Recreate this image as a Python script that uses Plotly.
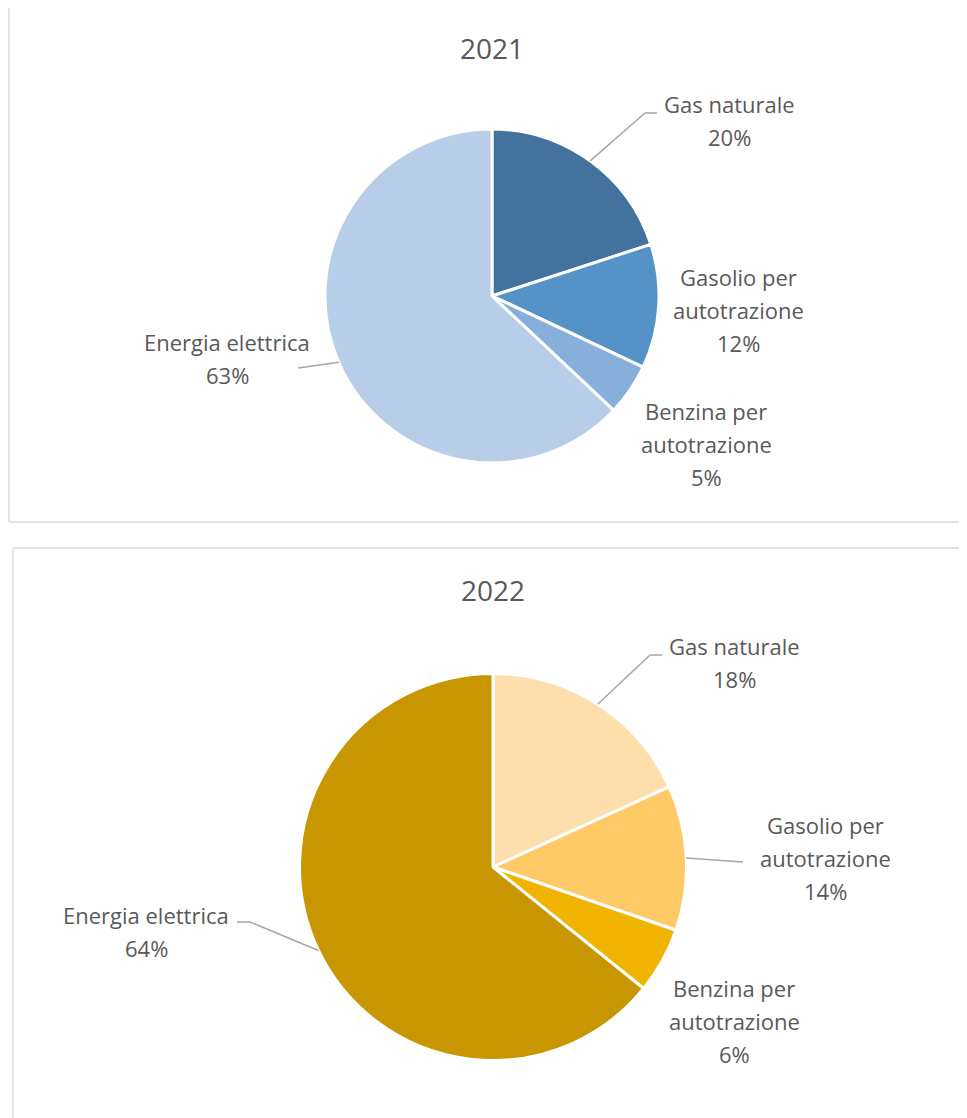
import numpy as np
import plotly.graph_objects as go

OFF = 8  # page body margin
W, H = 967 - OFF, 1118 - OFF

# data
fonti = ["Gas naturale", "Gasolio per autotrazione", "Benzina per autotrazione", "Energia elettrica"]
valori_2021 = [20, 12, 5, 63]
valori_2022 = [18.2, 12.1, 5.5, 64.2]
etichette_2021 = ["20%", "12%", "5%", "63%"]
etichette_2022 = ["18%", "14%", "6%", "64%"]
colori_2021 = ["#44729F", "#5592C8", "#87AFDC", "#B8CDE8"]
colori_2022 = ["#FFDEAD", "#FFC966", "#F0B300", "#C89600"]

FONT = "Open Sans"
GREY = "#595959"


def px(x):
    return (x - OFF) / W


def py(y):
    return 1 - (y - OFF) / H


fig = go.Figure()

# pie geometry (pixels): centre x, centre y, radius
pies = [
    (2021, valori_2021, etichette_2021, colori_2021, 492, 296, 167),
    (2022, valori_2022, etichette_2022, colori_2022, 493, 867, 193.5),
]

# label line positions (pixel centre of first line) and leader line elbows
label_pos = {
    2021: [(729, 104), (738, 277), (706, 411), (227, 342)],
    2022: [(734, 646), (825, 825), (734, 988), (146, 915)],
}
leaders = {
    2021: {0: [(645, 113), (657, 113)], 3: [(298, 368)]},
    2022: {0: [(650, 655), (662, 655)], 1: [(743, 862)], 3: [(250, 922), (237, 922)]},
}
title_y = {2021: 48, 2022: 590}

annotations = []
shapes = []

for anno, valori, etich, colori, cx, cy, r in pies:
    fig.add_trace(go.Pie(
        labels=fonti, values=valori, sort=False, direction="clockwise", rotation=0,
        marker=dict(colors=colori, line=dict(color="white", width=3)),
        textinfo="none", hoverinfo="label+percent", showlegend=False,
        domain=dict(x=[px(cx - r), px(cx + r)], y=[py(cy + r), py(cy - r)]),
    ))
    annotations.append(dict(
        text=str(anno), x=px(cx), y=py(title_y[anno]), xref="paper", yref="paper",
        showarrow=False, font=dict(family=FONT, size=28, color=GREY),
        xanchor="center", yanchor="middle",
    ))
    # labels
    tot = float(np.sum(valori))
    cum = np.cumsum([0] + list(valori))
    for i, nome in enumerate(fonti):
        righe = nome.replace("Gasolio per ", "Gasolio per|").replace("Benzina per ", "Benzina per|").split("|")
        righe.append(etich[i])
        lx, ly = label_pos[anno][i]
        for k, riga in enumerate(righe):
            annotations.append(dict(
                text=riga, x=px(lx), y=py(ly + k * 33), xref="paper", yref="paper",
                showarrow=False, font=dict(family=FONT, size=22, color=GREY),
                xanchor="center", yanchor="middle",
            ))
        if i in leaders[anno]:
            mid = (cum[i] + cum[i + 1]) / 2 / tot * 2 * np.pi
            pts = [(cx + r * np.sin(mid), cy - r * np.cos(mid))] + leaders[anno][i]
            for (x0, y0), (x1, y1) in zip(pts[:-1], pts[1:]):
                shapes.append(dict(
                    type="line", xref="paper", yref="paper",
                    x0=px(x0), y0=py(y0), x1=px(x1), y1=py(y1),
                    line=dict(color="#A6A6A6", width=1.5),
                ))

# chart area borders
border = dict(color="#D9D9D9", width=1.5)
for x0, y0, x1, y1 in [(9, 7, 966, 7), (9, 7, 9, 522), (9, 522, 966, 522),
                       (13, 548, 967, 548), (13, 548, 13, 1118)]:
    shapes.append(dict(type="line", xref="paper", yref="paper",
                       x0=px(x0), y0=py(y0), x1=px(x1), y1=py(y1), line=border))

fig.update_layout(
    width=W, height=H, margin=dict(l=0, r=0, t=0, b=0),
    paper_bgcolor="white", plot_bgcolor="white",
    annotations=annotations, shapes=shapes,
)

fig.write_html("out.html")
